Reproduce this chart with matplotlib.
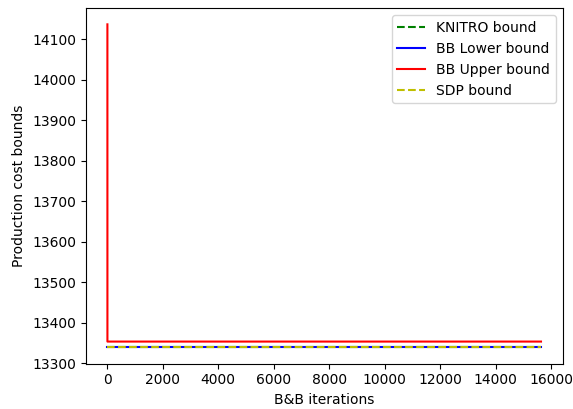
import matplotlib
matplotlib.use('Agg')
import matplotlib.pyplot as plt

# iteration indices and bound values
const_iters = [0, 15640]
knitro_bound = [13339.5, 13339.5]
bb_lower = [13339.5, 13339.5]
sdp_bound = [13339.5, 13339.5]
upper_iters = [0, 1, 15640]
bb_upper = [14137.0, 13354.0, 13354.0]

fig = plt.figure(figsize=(5.73, 4.09), dpi=100)
ax = fig.add_axes([0.1496, 0.111, 0.8324, 0.869])
ax.plot(const_iters, knitro_bound, 'g--', label='KNITRO bound')
ax.plot(const_iters, bb_lower, 'b-', label='BB Lower bound')
ax.plot(upper_iters, bb_upper, 'r-', label='BB Upper bound')
ax.plot(const_iters, sdp_bound, 'y--', label='SDP bound')
ax.set_xlabel('B&B iterations')
ax.set_ylabel('Production cost bounds')
ax.legend(loc='upper right')
fig.savefig('out.png', dpi=100)
